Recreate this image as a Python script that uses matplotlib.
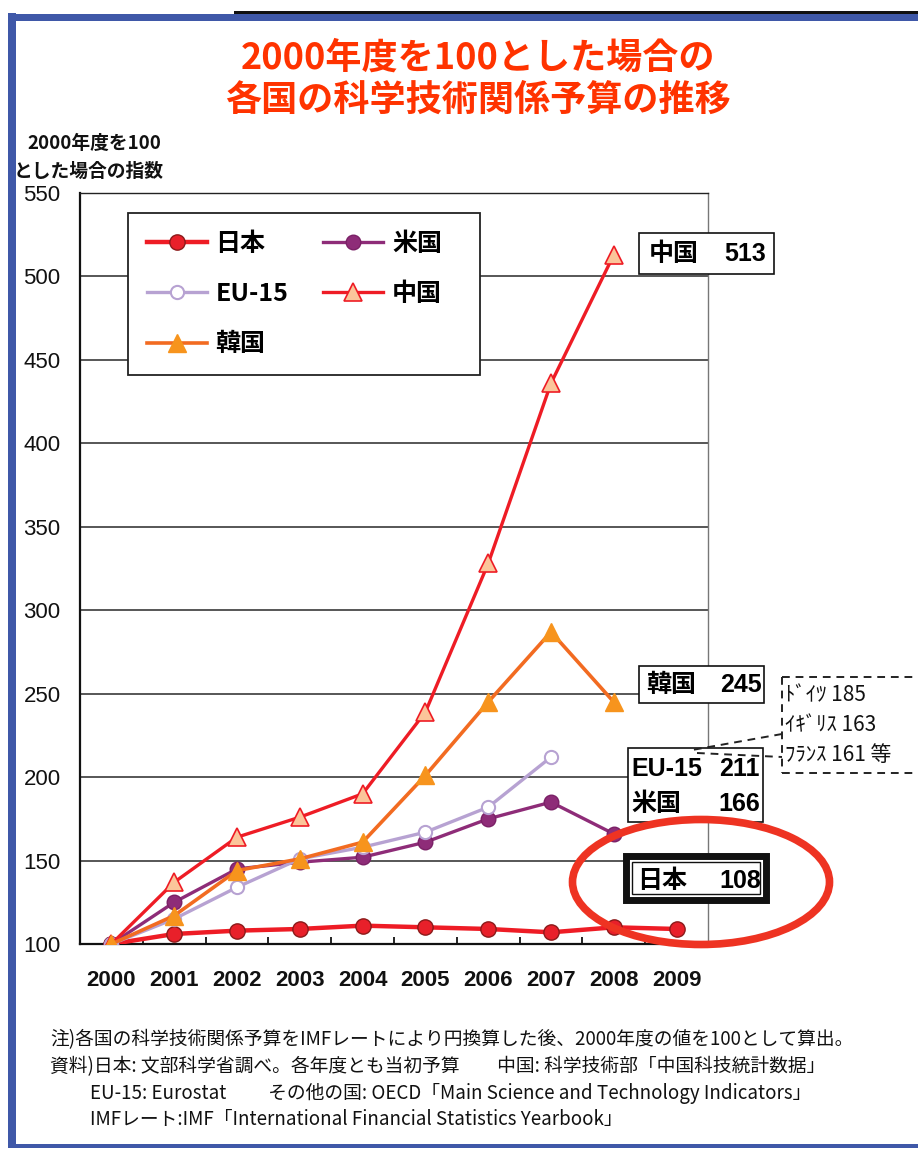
import numpy as np
import matplotlib.pyplot as plt
from matplotlib.patches import Rectangle, Ellipse

plt.rcParams['font.family'] = ['Noto Sans CJK JP', 'DejaVu Sans']

# data (index, 2000 = 100)
years = ['2000', '2001', '2002', '2003', '2004', '2005', '2006', '2007', '2008', '2009']
japan = [100, 106, 108, 109, 111, 110, 109, 107, 110, 109]
usa = [100, 125, 145, 149, 152, 161, 175, 185, 166]
eu15 = [100, 115, 134, 151, 158, 167, 182, 212]
china = [100, 137, 164, 176, 190, 239, 328, 436, 513]
korea = [100, 117, 144, 151, 161, 201, 245, 287, 245]
yticks = [100, 150, 200, 250, 300, 350, 400, 450, 500, 550]

names = ['日本', '米国', 'EU-15', '中国', '韓国']
callout_names = ['中国', '韓国', 'EU-15', '米国', '日本']
callout_values = ['513', '245', '211', '166', '108']
others = ['ﾄﾞｲﾂ 185', 'ｲｷﾞﾘｽ 163', 'ﾌﾗﾝｽ 161 等']
notes = [
    '注)各国の科学技術関係予算をIMFレートにより円換算した後、2000年度の値を100として算出。',
    '資料)日本: 文部科学省調べ。各年度とも当初予算　　中国: 科学技術部「中国科技統計数据」',
    'EU-15: Eurostat　　 その他の国: OECD「Main Science and Technology Indicators」',
    'IMFレート:IMF「International Financial Statistics Yearbook」',
]

W, H = 918, 1149
fig = plt.figure(figsize=(W / 100, H / 100), dpi=100)


def fx(x):
    return x / W


def fy(y):
    return 1 - y / H


ax = fig.add_axes([fx(80), fy(944), fx(708) - fx(80), fy(193) - fy(944)])

ax.plot(range(len(japan)), japan, color='#EE1C25', lw=3.2, marker='o', ms=11,
        mfc='#E8202A', mec='#8B1A1A', mew=1, label=names[0], zorder=3)
ax.plot(range(len(usa)), usa, color='#8E2C78', lw=2.4, marker='o', ms=10.5,
        mfc='#8E2C78', mec='#7A2066', label=names[1], zorder=4)
ax.plot(range(len(eu15)), eu15, color='#B7A2D2', lw=2.4, marker='o', ms=9.5,
        mfc='white', mec='#B7A2D2', mew=1.5, label=names[2], zorder=4)
ax.plot(range(len(china)), china, color='#EE1C25', lw=2.4, marker='^', ms=12.5,
        mfc='#FBC59A', mec='#EE1C25', mew=1.2, label=names[3], zorder=5)
ax.plot(range(len(korea)), korea, color='#F26B21', lw=2.6, marker='^', ms=13.5,
        mfc='#F7941D', mec='#F7941D', label=names[4], zorder=6)

ax.set_xlim(-0.5, len(years) - 0.5)
ax.set_ylim(yticks[0], yticks[-1])
ax.set_xticks(range(len(years)))
ax.set_xticklabels(years, fontsize=16, fontweight='bold', family='Liberation Sans', color='#111')
ax.set_xticks(np.arange(0.5, len(years) - 1, 1), minor=True)
ax.set_yticks(yticks)
ax.set_yticklabels([str(v) for v in yticks], fontsize=16, family='Liberation Sans', color='#111')
ax.tick_params(axis='x', which='major', length=0, pad=19)
ax.tick_params(axis='x', which='minor', direction='in', length=5, width=1.2)
ax.tick_params(axis='y', length=0, pad=14)
ax.yaxis.grid(True, color='#3a3a3a', lw=1.2)
ax.set_axisbelow(True)
for s in ['left', 'bottom']:
    ax.spines[s].set_linewidth(1.6)
    ax.spines[s].set_color('#111')
ax.spines['top'].set_linewidth(1.0)
ax.spines['top'].set_color('#222')
ax.spines['right'].set_linewidth(1.0)
ax.spines['right'].set_color('#777')

# legend frame, then legend without its own frame
ax.add_patch(Rectangle((fx(128), fy(375)), fx(480) - fx(128), fy(213) - fy(375),
                       transform=fig.transFigure, facecolor='white', edgecolor='#222',
                       lw=1.3, zorder=7, clip_on=False))
h, l = ax.get_legend_handles_labels()
order = [0, 2, 4, 1, 3]
leg = ax.legend([h[i] for i in order], [l[i] for i in order], ncol=2, frameon=False,
                loc='upper left', bbox_to_anchor=(fx(128), fy(213)),
                bbox_transform=fig.transFigure, borderaxespad=0, borderpad=0.75,
                handlelength=2.4, handletextpad=0.35, labelspacing=1.05,
                columnspacing=1.4, prop={'size': 18, 'weight': 'bold'})
leg.set_zorder(8)

# overlay in pixel coordinates for callouts and decorations
ov = fig.add_axes([0, 0, 1, 1])
ov.set_xlim(0, W)
ov.set_ylim(H, 0)
ov.axis('off')

# slide frame
ov.add_patch(Rectangle((8, 13), 8, 1135, color='#3F58A8', lw=0))
ov.add_patch(Rectangle((8, 14), W - 8, 7, color='#3F58A8', lw=0))
ov.add_patch(Rectangle((234, 11), W - 234, 3, color='#111', lw=0))
ov.add_patch(Rectangle((8, 1144), W - 8, 4, color='#3F58A8', lw=0))

ov.text(478, 58, '2000年度を100とした場合の', color='#FF3300', fontsize=26,
        fontweight='bold', ha='center', va='center')
ov.text(478, 100, '各国の科学技術関係予算の推移', color='#FF3300', fontsize=26,
        fontweight='bold', ha='center', va='center')

ov.text(27, 143, '2000年度を100', fontsize=13.5, fontweight='bold', va='center', color='#111')
ov.text(14, 171, 'とした場合の指数', fontsize=13.5, fontweight='bold', va='center', color='#111')


def box(x0, y0, x1, y1, lw=1.2):
    ov.add_patch(Rectangle((x0, y0), x1 - x0, y1 - y0, facecolor='white',
                           edgecolor='#111', lw=lw))


# 中国 / 韓国 callouts
box(639, 233, 774, 274)
ov.text(649, 254, callout_names[0], fontsize=18, va='center', fontweight='bold')
ov.text(766, 254, callout_values[0], fontsize=18, va='center', ha='right',
        fontweight='bold', family='Liberation Sans')
box(639, 666, 764, 703)
ov.text(646, 685, callout_names[1], fontsize=18, va='center', fontweight='bold')
ov.text(762, 685, callout_values[1], fontsize=18, va='center', ha='right',
        fontweight='bold', family='Liberation Sans')

# EU-15 / 米国 callout
box(628, 748, 763, 822)
ov.text(631, 769, callout_names[2], fontsize=18, va='center', fontweight='bold',
        family='Liberation Sans')
ov.text(760, 769, callout_values[2], fontsize=18, va='center', ha='right',
        fontweight='bold', family='Liberation Sans')
ov.text(631, 804, callout_names[3], fontsize=18, va='center', fontweight='bold')
ov.text(760, 804, callout_values[3], fontsize=18, va='center', ha='right',
        fontweight='bold', family='Liberation Sans')

# 日本 callout (double frame)
ov.add_patch(Rectangle((626, 856), 140, 44, facecolor='white', edgecolor='#111', lw=5))
ov.add_patch(Rectangle((632, 862), 128, 32, facecolor='none', edgecolor='#111', lw=1))
ov.text(637, 881, callout_names[4], fontsize=18, va='center', fontweight='bold')
ov.text(761, 881, callout_values[4], fontsize=18, va='center', ha='right',
        fontweight='bold', family='Liberation Sans')

# dashed box with other countries
ov.plot([782, 918], [677, 677], color='#222', lw=1.4, ls=(0, (4, 3)))
ov.plot([782, 918], [773, 773], color='#222', lw=1.4, ls=(0, (4, 3)))
ov.plot([782, 782], [677, 773], color='#222', lw=1.4, ls=(0, (4, 3)))
ov.plot([782, 692], [734, 750], color='#222', lw=1.4, ls=(0, (4, 3)))
ov.plot([697, 782], [753, 757], color='#222', lw=1.4, ls=(0, (4, 3)))
for i, t in enumerate(others):
    ov.text(785, 695 + i * 30, t, fontsize=15, va='center', color='#111')

ov.add_patch(Ellipse((701, 882), 257, 125, facecolor='none', edgecolor='#EE3322', lw=5.5))

for i, t in enumerate(notes):
    x0 = 50 if i < 2 else 90
    ov.text(x0, 1040 + i * 26.5, t, fontsize=13.5, va='center', color='#111')

fig.savefig('out.png', dpi=100)
